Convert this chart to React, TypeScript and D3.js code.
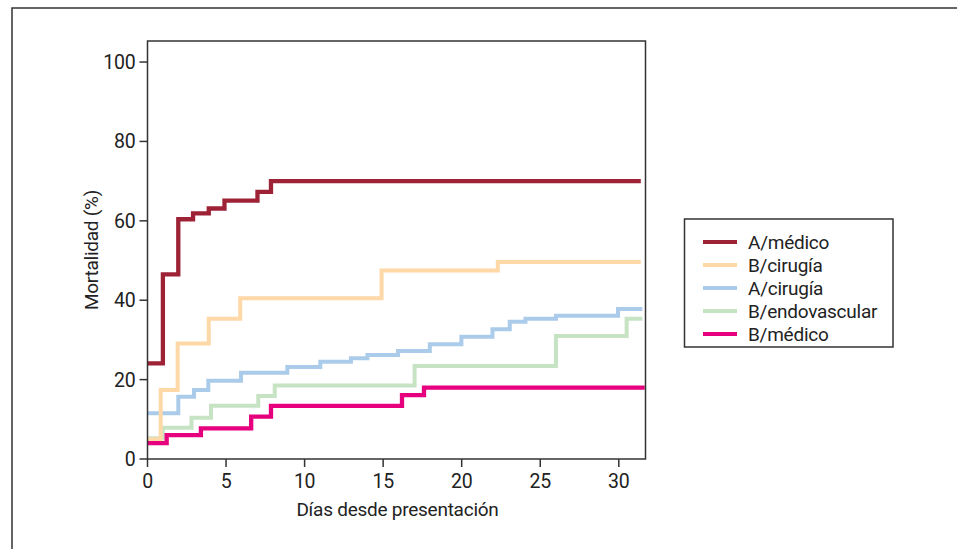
import React, { useEffect, useRef } from "react";
import * as d3 from "d3";

// Kaplan-Meier style mortality curves (day, %)
const seriesNames = ["A/médico", "B/cirugía", "A/cirugía", "B/endovascular", "B/médico"];
const seriesColors = ["#9e2236", "#fed8a6", "#abcbeb", "#c6e3c4", "#e6007e"];

const aMedicoDays = [0, 0.98, 1.96, 2.9, 3.9, 4.9, 7.0, 7.86, 31.4];
const aMedicoVals = [24.1, 46.5, 60.4, 61.9, 63.1, 65.1, 67.3, 70.0, 70.0];

const bCirugiaDays = [0, 0.84, 1.92, 3.9, 5.9, 14.9, 22.3, 31.4];
const bCirugiaVals = [5.0, 17.4, 29.1, 35.3, 40.5, 47.5, 49.6, 49.6];

const aCirugiaDays = [0, 1.96, 2.96, 3.87, 5.95, 8.9, 11.0, 12.95, 14.0, 15.95, 17.97, 19.98, 21.96, 23.06, 24.06, 26.0, 29.95, 31.5];
const aCirugiaVals = [11.5, 15.7, 17.4, 19.7, 21.7, 23.2, 24.5, 25.4, 26.2, 27.2, 28.9, 30.8, 32.7, 34.6, 35.3, 36.1, 37.8, 37.8];

const bEndoDays = [0, 0.97, 2.8, 4.04, 7.05, 8.1, 17.0, 26.0, 30.5, 31.5];
const bEndoVals = [5.2, 7.9, 10.4, 13.4, 15.9, 18.5, 23.4, 31.0, 35.3, 35.3];

const bMedicoDays = [0, 1.22, 3.4, 6.6, 7.86, 16.2, 17.6, 31.65];
const bMedicoVals = [4.0, 6.0, 7.7, 10.7, 13.4, 16.1, 18.0, 18.0];

const xTicks = [0, 5, 10, 15, 20, 25, 30];
const yTicks = [0, 20, 40, 60, 80, 100];

const FONT = "Roboto, 'Liberation Sans', sans-serif";
const FS = 19;
const LS = "-0.25px";

const App = () => {
  const svgRef = useRef<SVGSVGElement>(null);

  useEffect(() => {
    const svg = d3.select(svgRef.current);
    svg.selectAll("*").remove();

    const left = 147.5, right = 645.5, top = 41, bottom = 459;
    const x = d3.scaleLinear().domain([0, 31.7]).range([left, right]);
    const y = d3.scaleLinear().domain([0, 105.3]).range([bottom, top]);

    // outer figure frame (only top/left edges visible)
    svg.append("path")
      .attr("d", "M12,549 L12,8 L957,8")
      .attr("fill", "none")
      .attr("stroke", "#333")
      .attr("stroke-width", 1.5);

    const all = [
      { days: aMedicoDays, vals: aMedicoVals },
      { days: bCirugiaDays, vals: bCirugiaVals },
      { days: aCirugiaDays, vals: aCirugiaVals },
      { days: bEndoDays, vals: bEndoVals },
      { days: bMedicoDays, vals: bMedicoVals },
    ];

    const line = d3.line<[number, number]>()
      .x(d => x(d[0]))
      .y(d => y(d[1]))
      .curve(d3.curveStepAfter);

    // drawing order: light ones first, strong ones on top
    const order = [2, 3, 1, 4, 0];
    const lines = svg.append("g");
    order.forEach(i => {
      const pts = all[i].days.map((d, j) => [d, all[i].vals[j]] as [number, number]);
      lines.append("path")
        .attr("d", line(pts))
        .attr("fill", "none")
        .attr("stroke", seriesColors[i])
        .attr("stroke-width", i === 0 || i === 4 ? 4.3 : 4);
    });

    // plot box
    svg.append("rect")
      .attr("x", left).attr("y", top)
      .attr("width", right - left).attr("height", bottom - top)
      .attr("fill", "none")
      .attr("stroke", "#333")
      .attr("stroke-width", 1.5);

    // y axis ticks
    const yAxis = svg.append("g");
    yAxis.selectAll("line").data(yTicks).enter().append("line")
      .attr("x1", left - 8).attr("x2", left)
      .attr("y1", d => y(d)).attr("y2", d => y(d))
      .attr("stroke", "#333").attr("stroke-width", 1.5);
    yAxis.selectAll("text").data(yTicks).enter().append("text")
      .attr("x", left - 12)
      .attr("y", d => y(d) + 7)
      .attr("text-anchor", "end")
      .attr("font-family", FONT)
      .attr("font-size", FS + 0.5)
      .attr("letter-spacing", LS)
      .attr("fill", "#222")
      .text(d => d);

    // x axis ticks
    const xAxis = svg.append("g");
    xAxis.selectAll("line").data(xTicks).enter().append("line")
      .attr("x1", d => x(d)).attr("x2", d => x(d))
      .attr("y1", bottom).attr("y2", bottom + 8)
      .attr("stroke", "#333").attr("stroke-width", 1.5);
    xAxis.selectAll("text").data(xTicks).enter().append("text")
      .attr("x", d => x(d))
      .attr("y", 488)
      .attr("text-anchor", "middle")
      .attr("font-family", FONT)
      .attr("font-size", FS + 0.5)
      .attr("letter-spacing", LS)
      .attr("fill", "#222")
      .text(d => d);

    // axis titles
    svg.append("text")
      .attr("x", (left + right) / 2 + 1)
      .attr("y", 516)
      .attr("text-anchor", "middle")
      .attr("font-family", FONT)
      .attr("font-size", FS)
      .attr("letter-spacing", LS)
      .attr("fill", "#222")
      .text("Días desde presentación");

    svg.append("text")
      .attr("transform", `translate(98, ${(top + bottom) / 2}) rotate(-90)`)
      .attr("text-anchor", "middle")
      .attr("font-family", FONT)
      .attr("font-size", FS)
      .attr("letter-spacing", LS)
      .attr("fill", "#222")
      .text("Mortalidad (%)");

    // legend
    const lg = svg.append("g");
    lg.append("rect")
      .attr("x", 684.5).attr("y", 219)
      .attr("width", 208.5).attr("height", 128)
      .attr("fill", "#fff")
      .attr("stroke", "#333")
      .attr("stroke-width", 1.5);
    const rows = lg.selectAll("g").data(seriesNames).enter().append("g")
      .attr("transform", (d, i) => `translate(0, ${242 + i * 23})`);
    rows.append("line")
      .attr("x1", 703).attr("x2", 737)
      .attr("stroke", (d, i) => seriesColors[i])
      .attr("stroke-width", 4);
    rows.append("text")
      .attr("x", 748)
      .attr("y", 7)
      .attr("font-family", FONT)
      .attr("font-size", FS)
      .attr("letter-spacing", LS)
      .attr("fill", "#222")
      .text(d => d);
  }, []);

  return (
    <div style={{ position: "absolute", left: 0, top: 0, width: 957, height: 549, background: "#fff" }}>
      <svg ref={svgRef} width={957} height={549} style={{ display: "block" }} />
    </div>
  );
};

export default App;
